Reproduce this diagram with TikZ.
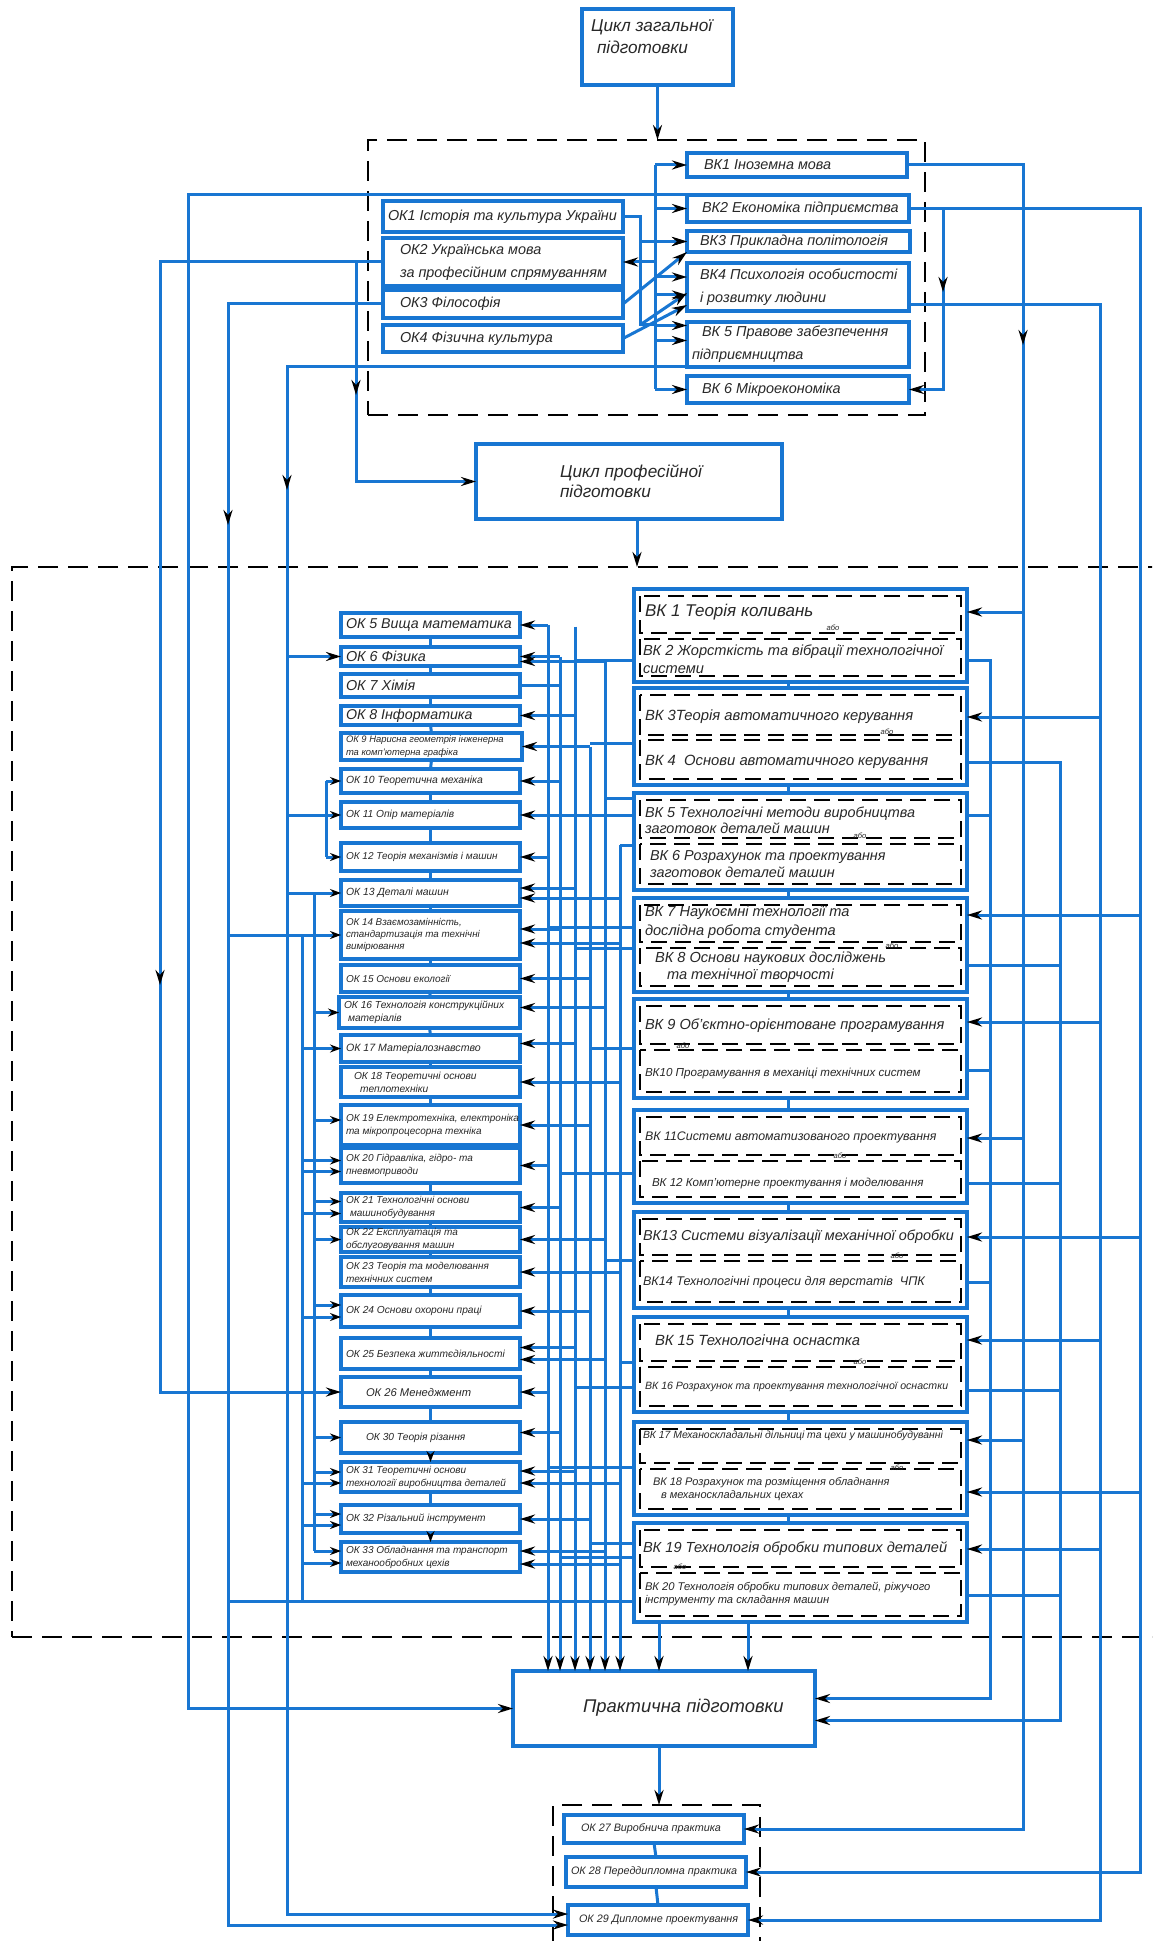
\documentclass[tikz,border=0pt]{standalone}
\usepackage{fontspec}
\setmainfont{Liberation Sans}
\usetikzlibrary{arrows.meta,fit,calc}
\definecolor{lb}{RGB}{24,118,210}
\definecolor{tx}{RGB}{40,40,40}
\newcommand\fs[2]{\fontsize{#1}{#2}\selectfont\itshape}
\tikzset{
 box/.style={draw=lb, line width=1.8pt, inner sep=0pt, outer sep=0pt},
 con/.style={draw=lb, line width=1.5pt},
 arr/.style={con, -{Stealth[length=7.5pt,width=4.5pt,color=black]}},
 arrs/.style={con, -{Stealth[length=5.5pt,width=4pt,color=black]}},
 lbl/.style={inner sep=0pt, outer sep=0pt, align=left, anchor=west, text=tx},
 dbox/.style={draw=black, dash pattern=on 10pt off 5pt, line width=0.8pt, inner sep=0pt, outer sep=0pt},
 dsh/.style={draw=black, dash pattern=on 8pt off 4pt, line width=0.9pt},
 abo/.style={inner sep=0pt, font=\fs{3.8}{4}, text=tx},
}
\newcommand\OB[7]{%
 \node[box, fit={(#2,#3) (#4,#5)}] (#1) {};
 \node[lbl, font=#6] (#1t) at ($(#1.west)+(5,0)$) {#7};}
\newcommand\VG[5]{%
 \node[box, fit={(634,#2) (967,#3)}] (#1) {};
 \draw[dsh] (640,{#2+7}) rectangle (961,#4);
 \draw[dsh] (640,#5) rectangle (961,{#3-6});}
\newcommand\OA[3]{\draw[arr] ($(#2 |- #1.east)+(0,#3)$) -- ($(#1.east)+(0,#3)$);}
\newcommand\LA[3]{\draw[arrs] ($(#2 |- #1.west)+(0,#3)$) -- ($(#1.west)+(0,#3)$);}
\newcommand\GJ[3]{\draw[con] (#1.west |- 0,#2) -- (#3 |- 0,#2);}
\newcommand\RA[3]{\draw[arr] (#2 |- 0,#3) -- (#1.east |- 0,#3);}
\newcommand\RS[3]{\draw[con] (#1.east |- 0,#3) -- (#2 |- 0,#3);}
\begin{document}
\begin{tikzpicture}[x=0.5pt,y=-0.5pt]
\useasboundingbox (0,0) rectangle (1152,1941);
\clip (0,0) rectangle (1152,1941);
\fill[white] (0,0) rectangle (1152,1941);
% bus coordinates
\coordinate (L0) at (160,0); \coordinate (L1) at (188,0); \coordinate (L2) at (228,0);
\coordinate (L3) at (287,0); \coordinate (L4) at (356,0);
\coordinate (K1) at (326,0); \coordinate (K2) at (314,0); \coordinate (K3) at (302,0);
\coordinate (m1) at (548,0); \coordinate (m2) at (560,0); \coordinate (m3) at (575,0);
\coordinate (m4) at (590,0); \coordinate (m5) at (605,0); \coordinate (m6) at (620,0);
\coordinate (bT) at (655,0); \coordinate (t1) at (640,0);
\coordinate (rA) at (943,0); \coordinate (r1) at (990,0); \coordinate (rB) at (1023,0);
\coordinate (r2) at (1060,0); \coordinate (rC) at (1100,0); \coordinate (rD) at (1140,0);
\coordinate (x659) at (659,0); \coordinate (x748) at (748,0); \coordinate (x788) at (788,0);

% ---------- general cycle ----------
\node[box, fit={(582,9) (733,85)}] (c1) {};
\node[lbl, anchor=north west, font=\fs{8.6}{11}] (c1t) at (591,20) {Цикл загальної\\\hspace*{3pt}підготовки};
\node[dbox, fit={(368,140) (925,415)}] (gd) {};
\OB{vk1}{687}{153}{907}{177}{\fs{7.2}{9}}{\hspace*{6pt}ВК1 Іноземна мова}
\OB{vk2}{687}{195}{909}{222}{\fs{7.2}{9}}{\hspace*{5pt}ВК2 Економіка підприємства}
\OB{vk3}{687}{231}{910}{252}{\fs{7.2}{9}}{\hspace*{4pt}ВК3 Прикладна політологія}
\OB{vk4}{687}{263}{909}{311}{\fs{7.2}{11.5}}{\hspace*{4pt}ВК4 Психологія особистості\\\hspace*{4pt}і розвитку людини}
\OB{vk5}{687}{322}{909}{367}{\fs{7.2}{11.5}}{\hspace*{5pt}ВК 5 Правове забезпечення\\підприємництва}
\OB{vk6}{687}{376}{909}{403}{\fs{7.2}{9}}{\hspace*{5pt}ВК 6 Мікроекономіка}
\OB{ok1}{383}{201}{623}{232}{\fs{7.2}{9}}{ОК1 Історія та культура України}
\OB{ok2}{383}{238}{623}{286}{\fs{7.2}{11.5}}{\hspace*{6pt}ОК2 Українська мова\\\hspace*{6pt}за професійним спрямуванням}
\OB{ok3}{383}{290}{623}{318}{\fs{7.2}{9}}{\hspace*{6pt}ОК3 Філософія}
\OB{ok4}{383}{325}{623}{352}{\fs{7.2}{9}}{\hspace*{6pt}ОК4  Фізична культура}

\draw[arr] (c1.south) -- (c1.south |- gd.north);
\draw[con] (bT |- vk1.west) -- (bT |- vk6.west);
\foreach \n in {vk1,vk2,vk3,vk6} \draw[arr] (bT |- \n.west) -- (\n.west);
\draw[arr] ($(bT |- vk4.west)+(0,-10)$) -- ($(vk4.west)+(0,-10)$);
\draw[arr] ($(bT |- vk4.west)+(0,8)$) -- ($(vk4.west)+(0,8)$);
\draw[arr] ($(bT |- vk5.west)+(0,-19)$) -- ($(vk5.west)+(0,-19)$);
\draw[arr] ($(bT |- vk5.west)+(0,-4)$) -- ($(vk5.west)+(0,-4)$);
\draw[con] (ok1.east) -| (t1 |- ok4.north) -- (bT |- ok4.north);
\draw[arr] (t1 |- vk3.west) -- (vk3.west);
\draw[arr] (bT |- ok2.east) -- (ok2.east);
\draw[arr] (ok3.east) -- (vk3.south west);
\draw[arr] (t1 |- ok4.north) -- ($(vk4.west)+(0,6)$);
\draw[arr] (ok4.east) -- ($(vk4.south west)+(0,-6)$);

% ---------- professional cycle ----------
\node[box, fit={(476,444) (782,519)}] (cp) {};
\node[lbl, anchor=north west, font=\fs{8.6}{10}] (cpt) at (560,465) {Цикл професійної\\підготовки};
\node[dbox, fit={(12,567) (1180,1637)}] (pd) {};
\draw[arr] (cp.south -| 637,0) -- (637,0 |- pd.north);

% OK column
\OB{ok5}{341}{613}{520}{637}{\fs{7.1}{9}}{ОК 5 Вища математика}
\OB{ok6}{341}{647}{520}{666}{\fs{7.2}{9}}{ОК 6 Фізика}
\OB{ok7}{341}{674}{520}{697}{\fs{7.2}{9}}{ОК 7 Хімія}
\OB{ok8}{341}{706}{520}{725}{\fs{7.1}{9}}{ОК 8 Інформатика}
\OB{ok9}{341}{733}{522}{760}{\fs{4.7}{6.5}}{ОК 9 Нарисна геометрія інженерна\\та комп'ютерна графіка}
\OB{ok10}{341}{769}{520}{793}{\fs{5.2}{6.5}}{ОК 10 Теоретична механіка}
\OB{ok11}{341}{802}{520}{828}{\fs{5.1}{6.5}}{ОК 11 Опір матеріалів}
\OB{ok12}{341}{843}{520}{871}{\fs{5}{6.5}}{ОК 12 Теорія механізмів і машин}
\OB{ok13}{341}{880}{520}{906}{\fs{5.2}{6.5}}{ОК 13 Деталі машин}
\OB{ok14}{341}{911}{520}{959}{\fs{4.9}{6.2}}{ОК 14 Взаємозамінність,\\стандартизація та технічні\\вимірювання}
\OB{ok15}{341}{965}{520}{992}{\fs{5}{6.5}}{ОК 15 Основи екології}
\OB{ok16}{339}{997}{520}{1028}{\fs{5.1}{6.5}}{ОК 16 Технологія конструкційних\\\hspace*{2pt}матеріалів}
\OB{ok17}{341}{1035}{520}{1062}{\fs{5.3}{6.5}}{ОК 17 Матеріалознавство}
\OB{ok18}{341}{1067}{520}{1097}{\fs{5.1}{6.5}}{\hspace*{4pt}ОК 18 Теоретичні основи\\\hspace*{7pt}теплотехніки}
\OB{ok19}{341}{1105}{520}{1145}{\fs{5}{6.5}}{ОК 19 Електротехніка, електроніка\\та мікропроцесорна техніка}
\OB{ok20}{341}{1148}{520}{1183}{\fs{5}{6.5}}{ОК 20 Гідравліка, гідро- та\\пневмоприводи}
\OB{ok21}{341}{1193}{520}{1222}{\fs{5}{6.5}}{ОК 21 Технологічні основи\\\hspace*{2pt}машинобудування}
\OB{ok22}{341}{1227}{520}{1252}{\fs{5}{6.5}}{ОК 22 Експлуатація та\\обслуговування машин}
\OB{ok23}{341}{1257}{520}{1287}{\fs{5}{6.5}}{ОК 23 Теорія та моделювання\\технічних систем}
\OB{ok24}{341}{1295}{520}{1327}{\fs{5.1}{6.5}}{ОК 24 Основи охорони праці}
\OB{ok25}{341}{1338}{520}{1369}{\fs{5.1}{6.5}}{ОК 25 Безпека життєдіяльності}
\OB{ok26}{341}{1377}{520}{1407}{\fs{5.6}{6.5}}{\hspace*{10pt}ОК 26 Менеджмент}
\OB{ok30}{341}{1422}{520}{1453}{\fs{5.1}{6.5}}{\hspace*{10pt}ОК 30 Теорія різання}
\OB{ok31}{341}{1462}{520}{1492}{\fs{5}{6.5}}{ОК 31 Теоретичні основи\\технології виробництва деталей}
\OB{ok32}{341}{1505}{520}{1533}{\fs{5.1}{6.5}}{ОК 32 Різальний інструмент}
\OB{ok33}{341}{1542}{520}{1572}{\fs{5}{6.5}}{ОК 33 Обладнання та транспорт\\механообробних цехів}
\foreach \a/\b in {ok5/ok6,ok6/ok7,ok7/ok8,ok8/ok9,ok9/ok10,ok10/ok11,ok11/ok12,ok12/ok13,ok13/ok14,ok14/ok15,ok15/ok16,ok16/ok17,ok17/ok18,ok18/ok19,ok19/ok20,ok20/ok21,ok21/ok22,ok22/ok23,ok23/ok24,ok24/ok25,ok25/ok26,ok26/ok30,ok31/ok32}
  \draw[con] (\a.south) -- (\b.north);
\draw[arrs] (ok30.south) -- (ok31.north);
\draw[arrs] (ok32.south) -- (ok33.north);

% VK groups
\VG{g1}{589}{682}{633}{639}
\VG{g2}{688}{785}{735}{740}
\VG{g3}{793}{890}{838}{844}
\VG{g4}{898}{992}{942}{948}
\VG{g5}{999}{1098}{1044}{1050}
\VG{g6}{1110}{1203}{1155}{1161}
\VG{g7}{1212}{1308}{1255}{1261}
\VG{g8}{1317}{1412}{1361}{1367}
\VG{g9}{1422}{1515}{1463}{1469}
\VG{g10}{1523}{1622}{1567}{1573}
\foreach \a/\b in {g1/g2,g2/g3,g3/g4,g4/g5,g5/g6,g6/g7,g7/g8,g8/g9,g9/g10}
  \draw[con] (\a.south -| x788) -- (\b.north -| x788);
\node[lbl, font=\fs{8.5}{10}] (vk1pt) at (645,612) {ВК 1 Теорія коливань};
\node[lbl, font=\fs{7.3}{9}] (vk2pt) at (643,659) {ВК 2 Жорсткість та вібрації технологічної\\системи};
\node[abo] (a1) at (833,628) {або};
\node[lbl, font=\fs{7.4}{9}] (vk3pt) at (645,717) {ВК 3Теорія автоматичного керування};
\node[lbl, font=\fs{7.4}{9}] (vk4pt) at (645,762) {ВК 4 \ Основи автоматичного керування};
\node[abo] (a2) at (887,732) {або};
\node[lbl, font=\fs{7.2}{8}] (vk5pt) at (645,820) {ВК 5 Технологічні методи виробництва\\заготовок деталей машин};
\node[lbl, font=\fs{7.2}{8.5}] (vk6pt) at (650,864) {ВК 6 Розрахунок та проектування\\заготовок деталей машин};
\node[abo] (a3) at (860,836) {або};
\node[lbl, font=\fs{7.3}{9.5}] (vk7pt) at (645,922) {ВК 7 Наукоємні технології та\\дослідна робота студента};
\node[lbl, font=\fs{7.3}{8.5}] (vk8pt) at (655,967) {ВК 8 Основи наукових досліджень\\\hspace*{6pt}та технічної творчості};
\node[abo] (a4) at (892,946) {або};
\node[lbl, font=\fs{7.3}{9}] (vk9pt) at (645,1026) {ВК 9 Об'єктно-орієнтоване програмування};
\node[lbl, font=\fs{5.8}{7}] (vk10pt) at (645,1073) {ВК10 Програмування в механіці технічних систем};
\node[abo] (a5) at (683,1046) {або};
\node[lbl, font=\fs{6.2}{7}] (vk11pt) at (645,1137) {ВК 11Системи автоматизованого проектування};
\node[lbl, font=\fs{5.8}{7}] (vk12pt) at (652,1183) {ВК 12 Комп'ютерне проектування і моделювання};
\node[abo] (a6) at (840,1156) {або};
\node[lbl, font=\fs{7.2}{9}] (vk13pt) at (643,1237) {ВК13 Системи візуалізації механічної обробки};
\node[lbl, font=\fs{6.3}{7}] (vk14pt) at (643,1282) {ВК14 Технологічні процеси для верстатів \ ЧПК};
\node[abo] (a7) at (897,1256) {або};
\node[lbl, font=\fs{7.4}{9}] (vk15pt) at (655,1340) {ВК 15 Технологічна оснастка};
\node[lbl, font=\fs{5.3}{7}] (vk16pt) at (645,1387) {ВК 16 Розрахунок та проектування технологічної оснастки};
\node[abo] (a8) at (860,1362) {або};
\node[lbl, font=\fs{5.2}{7}] (vk17pt) at (643,1436) {ВК 17 Механоскладальні дільниці та цехи у машинобудуванні};
\node[lbl, font=\fs{5.5}{6.5}] (vk18pt) at (653,1489) {ВК 18 Розрахунок та розміщення обладнання\\\hspace*{4pt}в механоскладальних цехах};
\node[abo] (a9) at (897,1468) {або};
\node[lbl, font=\fs{7.3}{9}] (vk19pt) at (643,1549) {ВК 19 Технологія обробки типових деталей};
\node[lbl, font=\fs{5.6}{6.8}] (vk20pt) at (645,1594) {ВК 20 Технологія обробки типових деталей, ріжучого\\інструменту та складання машин};
\node[abo] (a10) at (680,1567) {або};

% practical
\node[box, fit={(513,1671) (815,1746)}] (prak) {};
\node[lbl, font=\fs{9.2}{11}] (prakt) at (583,1708) {Практична підготовки};
\node[dbox, fit={(553,1805) (760,1990)}] (gd3) {};
\OB{ok27}{564}{1815}{744}{1843}{\fs{5.4}{6.5}}{\hspace*{6pt}ОК 27 Виробнича практика}
\OB{ok28}{566}{1857}{746}{1887}{\fs{5.4}{6.5}}{ОК 28 Переддипломна практика}
\OB{ok29}{568}{1905}{748}{1935}{\fs{5.4}{6.5}}{\hspace*{3pt}ОК 29 Дипломне проектування}
\draw[con] (ok27.south) -- (ok28.north);
\draw[con] (ok28.south) -- (ok29.north);
\draw[arr] (prak.south -| x659) -- (x659 |- gd3.north);
\draw[arr] (g10.south -| x659) -- (x659 |- prak.north);
\draw[arr] (g10.south -| x748) -- (x748 |- prak.north);

% ---------- left routing ----------
\draw[arr] (vk2.north west) -| (L1 |- prak.west) -- (prak.west);
\draw[arr] (ok2.west) -| (L0 |- ok26.west) -- (ok26.west);
\draw[arr] (L0 |- 0,955) -- (L0 |- 0,985);
\draw[arr] (L4 |- ok2.west) |- (cp.west);
\draw[arr] (L4 |- 0,365) -- (L4 |- 0,395);
\draw[arr] (ok3.west) -| ($(L2 |- ok29.west)+(0,5)$) -- ($(ok29.west)+(0,5)$);
\draw[arr] (L2 |- 0,495) -- (L2 |- 0,525);
\draw[arr] (vk5.south west) -| ($(L3 |- ok29.west)+(0,-6)$) -- ($(ok29.west)+(0,-6)$);
\draw[arr] (L3 |- 0,460) -- (L3 |- 0,490);
\draw[arr] (L3 |- ok6.west) -- (ok6.west);
\draw[con] ($(g10.west)+(0,29)$) -- ($(L2 |- g10.west)+(0,29)$);
% left of OK column
\draw[con] (L3 |- ok11.west) -- (K1 |- ok11.west);
\draw[con] (K1 |- ok10.west) -- (K1 |- ok12.west);
\foreach \n in {ok10,ok11,ok12} \LA{\n}{K1}{0}
\draw[con] (L3 |- ok13.west) -- (K2 |- ok13.west);
\draw[con] (K2 |- ok13.west) -- ($(K2 |- ok33.west)+(0,-6)$);
\LA{ok13}{K2}{0} \LA{ok16}{K2}{0} \LA{ok19}{K2}{-5} \LA{ok21}{K2}{-6} \LA{ok22}{K2}{0}
\LA{ok24}{K2}{-6} \LA{ok30}{K2}{0} \LA{ok31}{K2}{-5} \LA{ok32}{K2}{-5} \LA{ok33}{K2}{-6}
\draw[con] (L2 |- ok14.west) -- (K3 |- ok14.west);
\draw[con] (K3 |- ok14.west) -- (K3 |- 0,1602);
\LA{ok14}{K3}{0} \LA{ok17}{K3}{0} \LA{ok20}{K3}{-5} \LA{ok20}{K3}{6} \LA{ok21}{K3}{6}
\LA{ok24}{K3}{6} \LA{ok31}{K3}{6} \LA{ok32}{K3}{6} \LA{ok33}{K3}{6}

% ---------- middle routing ----------
\draw[arr] (m1 |- ok5.east) -- (m1 |- prak.north);
\draw[arr] (m2 |- ok6.east) -- (m2 |- prak.north);
\draw[arr] (m3 |- g1.west) ++(0,-9) -- (m3 |- prak.north);
\draw[arr] (m4 |- ok9.east) -- (m4 |- prak.north);
\draw[arr] ($(m5 |- ok6.east)+(0,5)$) -- (m5 |- prak.north);
\draw[arr] (m6 |- 0,845) -- (m6 |- prak.north);
\OA{ok5}{m1}{0} \OA{ok12}{m1}{0} \OA{ok20}{m1}{0} \OA{ok26}{m1}{0}
\OA{ok6}{m2}{0} \OA{ok10}{m2}{0} \OA{ok14}{m2}{-6} \OA{ok21}{m2}{0} \OA{ok30}{m2}{-5}
\OA{ok8}{m3}{0} \OA{ok13}{m3}{-5} \OA{ok17}{m3}{-5} \OA{ok25}{m3}{-6} \OA{ok31}{m3}{-6}
\OA{ok9}{m4}{0} \OA{ok15}{m4}{0} \OA{ok19}{m4}{0} \OA{ok24}{m4}{0} \OA{ok32}{m4}{0}
\OA{ok6}{m5}{5} \OA{ok11}{m5}{0} \OA{ok16}{m5}{-5} \OA{ok22}{m5}{0} \OA{ok25}{m5}{6} \OA{ok33}{m5}{-6}
\OA{ok13}{m6}{5} \OA{ok14}{m6}{8} \OA{ok18}{m6}{0} \OA{ok23}{m6}{0} \OA{ok31}{m6}{6} \OA{ok33}{m6}{7}
\draw[con] (ok7.east) -- (m2 |- ok7.east);
\GJ{g1}{660}{m3} \GJ{g2}{743}{m4} \GJ{g3}{798}{m5} \GJ{g3}{815}{m2} \GJ{g3}{845}{m6}
\GJ{g4}{927}{m1} \GJ{g4}{948}{m3} \GJ{g5}{1048}{m4} \GJ{g6}{1173}{m2} \GJ{g7}{1260}{m5}
\GJ{g8}{1362}{m6} \GJ{g8}{1387}{m3} \GJ{g9}{1467}{m1} \GJ{g10}{1543}{m4} \GJ{g10}{1557}{m2}

% ---------- right routing ----------
\draw[arr] (vk2.east) -| (rA |- vk6.east) -- (vk6.east);
\draw[arr] (rA |- 0,262) -- (rA |- 0,292);
\draw[arr] (rA |- vk2.east) -| (rD |- ok28.east) -- (ok28.east);
\draw[arr] (vk1.east) -| (rB |- ok27.east) -- (ok27.east);
\draw[arr] ($(vk4.east)+(0,18)$) -| (rC |- ok29.east) -- (ok29.east);
\draw[arr] (rB |- 0,315) -- (rB |- 0,345);
\RA{g1}{rB}{612} \RA{g6}{rB}{1138} \RA{g9}{rB}{1440}
\RA{g4}{rD}{915} \RA{g7}{rD}{1237} \RA{g9}{rD}{1492}
\RA{g2}{rC}{717} \RA{g5}{rC}{1022} \RA{g8}{rC}{1340} \RA{g10}{rC}{1549}
\draw[arr] (g1.east |- 0,660) -| ($(r1 |- prak.east)+(0,-10)$) -- ($(prak.east)+(0,-10)$);
\RS{g3}{r1}{815} \RS{g5}{r1}{1070} \RS{g7}{r1}{1282}
\draw[arr] (g2.east |- 0,762) -| ($(r2 |- prak.east)+(0,12)$) -- ($(prak.east)+(0,12)$);
\RS{g4}{r2}{965} \RS{g6}{r2}{1183} \RS{g8}{r2}{1390} \RS{g10}{r2}{1595}
\end{tikzpicture}
\end{document}
